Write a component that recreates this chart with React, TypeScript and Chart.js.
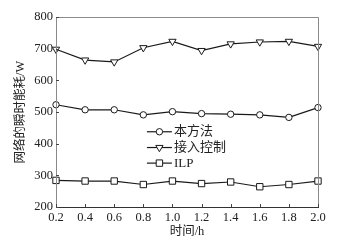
import React, { useEffect, useRef } from "react";
import { Chart, registerables } from "chart.js";

Chart.register(...registerables);

const categories = ["0.2", "0.4", "0.6", "0.8", "1.0", "1.2", "1.4", "1.6", "1.8", "2.0"];
const seriesNames = ["本方法", "接入控制", "ILP"];
const methodValues = [523, 507, 507, 491, 501, 495, 493, 491, 483, 514];
const accessValues = [698, 664, 658, 703, 723, 694, 715, 721, 723, 707];
const ilpValues = [284, 282, 282, 271, 282, 274, 279, 264, 271, 282];
const yTicks = [200, 300, 400, 500, 600, 700, 800];

const FONT = "'Liberation Serif', 'Noto Sans CJK SC', serif";
const LINE = "#1a1a1a";

function drawMarker(ctx: CanvasRenderingContext2D, style: string, cx: number, cy: number) {
  ctx.beginPath();
  if (style === "circle") {
    ctx.arc(cx, cy, 3.2, 0, Math.PI * 2);
  } else if (style === "triangle") {
    const r = 4.2;
    ctx.moveTo(cx, cy + r);
    ctx.lineTo(cx - r * 0.866, cy - r / 2);
    ctx.lineTo(cx + r * 0.866, cy - r / 2);
    ctx.closePath();
  } else {
    ctx.rect(cx - 3.2, cy - 3.2, 6.4, 6.4);
  }
  ctx.fill();
  ctx.stroke();
}

const framePlugin = {
  id: "frameTicks",
  afterDatasetsDraw(chart: any) {
    const { ctx, chartArea: a, scales } = chart;
    const x = scales.x;
    const y = scales.y;
    ctx.save();
    ctx.lineWidth = 1;
    ctx.strokeStyle = "#8a8a8a";
    ctx.beginPath();
    ctx.moveTo(a.left + 0.5, a.bottom);
    ctx.lineTo(a.left + 0.5, a.top + 0.5);
    ctx.lineTo(a.right + 0.5, a.top + 0.5);
    ctx.lineTo(a.right + 0.5, a.bottom);
    ctx.stroke();
    ctx.strokeStyle = "#333";
    ctx.beginPath();
    ctx.moveTo(a.left, a.bottom + 0.5);
    ctx.lineTo(a.right + 1, a.bottom + 0.5);
    ctx.stroke();
    ctx.strokeStyle = "#444";
    ctx.beginPath();
    categories.forEach((_, i) => {
      const px = Math.round(x.getPixelForValue(i)) + 0.5;
      ctx.moveTo(px, a.bottom);
      ctx.lineTo(px, a.bottom - 3);
    });
    yTicks.forEach((v) => {
      const py = Math.round(y.getPixelForValue(v)) + 0.5;
      ctx.moveTo(a.left, py);
      ctx.lineTo(a.left + 3, py);
    });
    ctx.stroke();
    ctx.restore();
  },
  afterDraw(chart: any) {
    const { ctx, chartArea: a } = chart;
    const w = a.right - a.left;
    const h = a.bottom - a.top;
    const x0 = a.left + w * 0.347;
    const x1 = x0 + 25;
    const rows = [0.604, 0.687, 0.769];
    ctx.save();
    chart.data.datasets.forEach((ds: any, i: number) => {
      const yy = a.top + h * rows[i];
      ctx.strokeStyle = LINE;
      ctx.lineWidth = 1.2;
      ctx.beginPath();
      ctx.moveTo(x0, yy);
      ctx.lineTo(x1, yy);
      ctx.stroke();
      ctx.fillStyle = "#fff";
      ctx.strokeStyle = LINE;
      ctx.lineWidth = 1;
      drawMarker(ctx, ds.pointStyle, (x0 + x1) / 2, yy);
      ctx.fillStyle = "#222";
      ctx.font = `13px ${FONT}`;
      ctx.textBaseline = "middle";
      ctx.textAlign = "left";
      ctx.fillText(seriesNames[i], x1 + 2, yy);
    });
    ctx.restore();
  },
};

export default function App() {
  const ref = useRef<HTMLCanvasElement | null>(null);
  useEffect(() => {
    if (!ref.current) return;
    const common = {
      borderColor: LINE,
      borderWidth: 1.2,
      pointBackgroundColor: "#fff",
      pointBorderColor: LINE,
      pointBorderWidth: 1,
      tension: 0,
    };
    const chart = new Chart(ref.current, {
      type: "line",
      data: {
        labels: categories,
        datasets: [
          { ...common, label: seriesNames[0], data: methodValues, pointStyle: "circle", pointRadius: 3.2 },
          { ...common, label: seriesNames[1], data: accessValues, pointStyle: "triangle", pointRadius: 4.2, pointRotation: 180 },
          { ...common, label: seriesNames[2], data: ilpValues, pointStyle: "rect", pointRadius: 4.5 },
        ],
      },
      options: {
        animation: false,
        responsive: false,
        devicePixelRatio: 1,
        layout: { padding: { left: 0, right: 39, top: 17, bottom: 0 } },
        plugins: { legend: { display: false }, tooltip: { enabled: false } },
        scales: {
          x: {
            type: "category",
            offset: false,
            grid: { display: false, drawTicks: false },
            border: { display: false },
            ticks: { color: "#222", font: { family: FONT, size: 12.5 }, padding: 3, maxRotation: 0, autoSkip: false },
            title: { display: true, text: "时间/h", color: "#222", font: { family: FONT, size: 12.5 }, padding: { top: 0, bottom: 6.5 } },
            afterFit: (s: any) => { s.height = 39; },
          },
          y: {
            min: 200,
            max: 800,
            grid: { display: false, drawTicks: false },
            border: { display: false },
            ticks: { stepSize: 100, color: "#222", font: { family: FONT, size: 12.5 }, padding: 3 },
            title: { display: true, text: "网络的瞬时能耗/W", color: "#222", font: { family: FONT, size: 12.5 }, padding: { top: 13, bottom: 0 } },
            afterFit: (s: any) => { s.width = 56; },
          },
        },
      },
      plugins: [framePlugin],
    });
    return () => chart.destroy();
  }, []);
  return (
    <div style={{ position: "fixed", left: 0, top: 0, width: 357, height: 246, background: "#fff" }}>
      <canvas ref={ref} width={357} height={246} />
    </div>
  );
}
